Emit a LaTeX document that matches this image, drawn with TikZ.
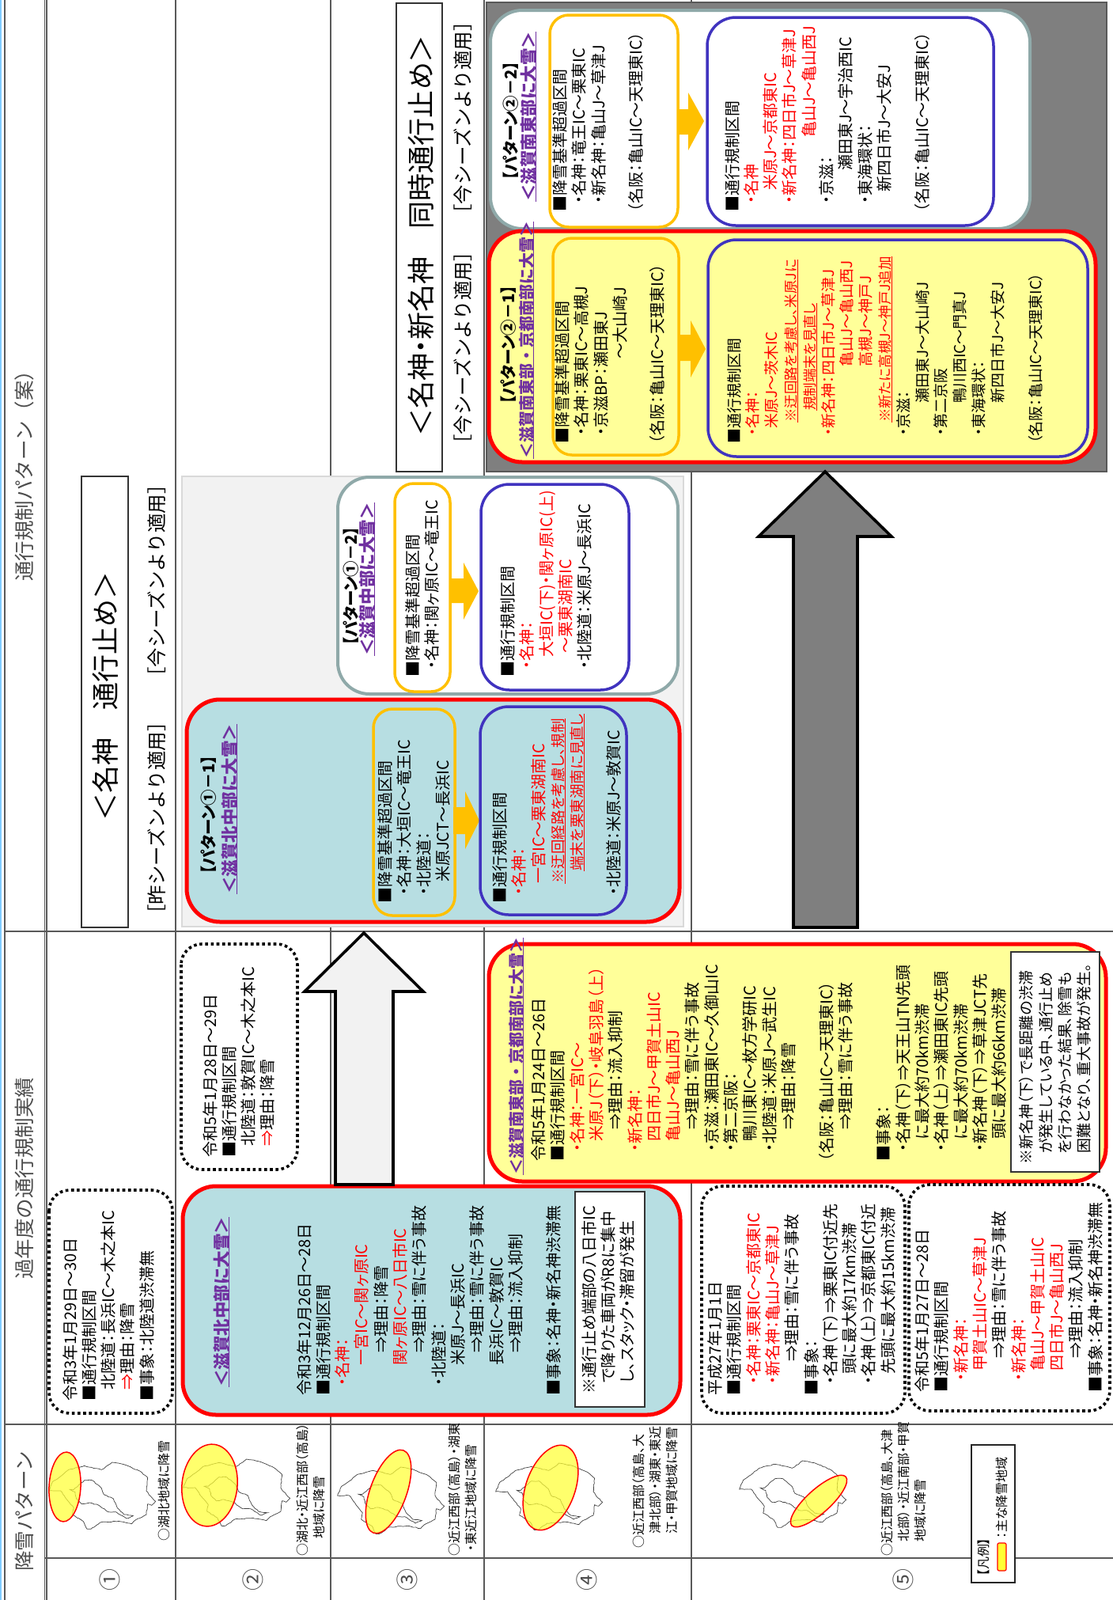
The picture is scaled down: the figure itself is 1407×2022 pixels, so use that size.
\documentclass[tikz,border=0pt]{standalone}
\usepackage{fontspec}
\setmainfont[RawFeature={+palt}]{Noto Sans CJK JP}
\newfontfamily\fullwidth{Noto Sans CJK JP}
\usetikzlibrary{decorations.pathmorphing}
\definecolor{waterblue}{HTML}{B7DEE2}
\definecolor{lemon}{HTML}{FFFF99}
\definecolor{snowyellow}{HTML}{FFFF33}
\definecolor{ringgrey}{HTML}{8FA9A9}
\definecolor{amber}{HTML}{FFC000}
\definecolor{indigo}{HTML}{4033BF}
\definecolor{purpletxt}{HTML}{7030A0}
\definecolor{panelgrey}{HTML}{F2F2F2}
\definecolor{darkpanel}{HTML}{7F7F7F}
\newcommand{\rd}[1]{\textcolor{red}{#1}}
\newcommand{\sk}[1]{\hspace*{#1pt}}
\newcommand{\ul}[1]{\underline{\smash{#1}}}
\tikzset{
    rule/.style = {
        draw=black!65,
        line width=1.2pt,
        },
    txt/.style = {
        rotate=90,
        anchor=north west,
        align=left,
        inner sep=0pt,
        font=\fontsize{20}{24.3}\selectfont,
        execute at begin node=\rule{0pt}{1em},
        },
    line/.style = {
        rotate=90,
        anchor=west,
        inner sep=0pt,
        },
    head/.style = {
        line,
        text=black!70,
        font=\fullwidth\fontsize{25.5}{25.5}\selectfont,
        },
    num/.style = {
        rotate=90,
        inner sep=0pt,
        text=black!70,
        font=\fontsize{28}{28}\selectfont,
        },
    area/.style = {
        txt,
        font=\fontsize{16}{21}\selectfont,
        },
    ptitle/.style = {
        line,
        font=\fullwidth\fontsize{21.5}{24}\selectfont\bfseries,
        text=purpletxt,
        },
    pname/.style = {
        line,
        font=\fontsize{20.5}{24}\selectfont\bfseries,
        },
    bigtitle/.style = {
        line,
        font=\fontsize{35}{35}\selectfont,
        },
    season/.style = {
        line,
        font=\fullwidth\fontsize{24.5}{24.5}\selectfont,
        },
    dotbox/.style = {
        draw=black,
        line width=3.6pt,
        dash pattern=on 3.6pt off 3.6pt,
        rounded corners=26pt,
        },
    redbox/.style = {
        draw=red,
        line width=5pt,
        rounded corners=42pt,
        },
    greybox/.style = {
        draw=ringgrey,
        line width=4pt,
        fill=white,
        rounded corners=40pt,
        },
    orbox/.style = {
        draw=amber,
        line width=3.5pt,
        rounded corners=24pt,
        },
    blbox/.style = {
        draw=indigo,
        line width=3.5pt,
        rounded corners=36pt,
        },
    notebox/.style = {
        draw=black!80,
        line width=1.2pt,
        fill=white,
        },
    okarrow/.style = {
        fill=amber,
        draw=none,
        },
    bigarrow/.style = {
        draw=black,
        line width=3.6pt,
        miter limit=10,
        },
    snow/.style = {
        draw=red,
        line width=1.5pt,
        fill=snowyellow,
        fill opacity=0.72,
        },
    mapline/.style = {
        draw=black!75,
        line width=0.7pt,
        decorate,
        decoration={random steps,segment length=3pt,amplitude=0.5pt},
        },
    shiga/.pic = {
        \begin{scope}[scale=0.3333]
        \draw[mapline] (5,150) -- (20,115) -- (50,95) -- (80,70) -- (140,55) -- (205,70) -- (215,65)
            -- (245,42) -- (290,50) -- (350,75) -- (380,100) -- (375,150) -- (385,165) -- (410,190)
            -- (395,205) -- (380,200) -- (375,240) -- (335,260) -- (320,275) -- (270,265) -- (200,270)
            -- (165,295) -- (150,295) -- (135,265) -- (95,240) -- (100,215) -- (75,185) -- (50,150) -- cycle;
        \draw[mapline] (85,145) -- (100,145) -- (140,110) -- (170,110) -- (205,140) -- (215,165)
            -- (250,180) -- (265,215) -- (290,240) -- (325,245) -- (300,255) -- (260,230) -- (230,230)
            -- (195,205) -- (160,195) -- (130,200) -- (110,180) -- (105,155) -- cycle;
        \end{scope}
        },
}
\begin{document}
\begin{tikzpicture}[x=1pt,y=-1pt]
    \useasboundingbox (0,0) rectangle (1407,2022);

    % table
    \draw[draw=blue!40!cyan!50, line width=2pt] (1,0) -- (1,2022);
    \foreach \xx in {6,56.5,59,222,418,612,874} {
        \draw[rule] (\xx,0) -- (\xx,2022);
    }
    \draw[rule] (6,1177) -- (1407,1177);
    \draw[rule] (6,1800) -- (1407,1800);
    \draw[rule] (56,1969) -- (1407,1969);

    \node[head] (headsnow) at (31,1986) {降雪パターン};
    \node[head] (headpast) at (31,1617) {過年度の通行規制実績};
    \node[head] (headplan) at (31,735) {通行規制パターン（案）};

    \node[num] (num1) at (139,1996) {①};
    \node[num] (num2) at (320,1996) {②};
    \node[num] (num3) at (515,1996) {③};
    \node[num] (num4) at (742,1996) {④};
    \node[num] (num5) at (1142,1996) {⑤};

    % maps
    \pic at (60,1834) {shiga};
    \pic at (230,1830) {shiga};
    \pic at (425,1840) {shiga};
    \pic at (625,1835) {shiga};
    \pic at (933,1832) {shiga};
    \draw[snow, rotate around={-3:(82,1879)}] (82,1879) ellipse[x radius=20, y radius=44];
    \draw[snow, rotate around={-6:(265,1877)}] (265,1877) ellipse[x radius=35, y radius=52];
    \draw[snow, rotate around={-20:(491,1885)}] (491,1885) ellipse[x radius=23, y radius=55.5];
    \draw[snow, rotate around={-20:(696,1880)}] (696,1880) ellipse[x radius=31, y radius=56];
    \draw[snow, rotate around={-48:(1035,1897)}] (1035,1897) ellipse[x radius=15, y radius=46];

    \node[area] (area1) at (197,1948) {○湖北地域に降雪};
    \node[area] (area2) at (375,1967) {○湖北・近江西部（高島）\\\sk{22}地域に降雪};
    \node[area] (area3) at (567,1967) {○近江西部（高島）・湖東\\\sk{6}・東近江地域に降雪};
    \node[area] (area4) at (800,1957) {○近江西部（高島、大\\\sk{18}津北部）・湖東・東近\\\sk{18}江・甲賀地域に降雪};
    \node[area] (area5) at (1114,1967) {○近江西部（高島、大津\\\sk{18}北部）・近江南部・甲賀\\\sk{18}地域に降雪};

    % legend
    \draw[draw=black!85, line width=2.5pt, fill=white] (1228,1826) rectangle (1283,2000);
    \node[area] (legendhead) at (1233,1992) {【凡例】};
    \draw[draw=red, line width=1.2pt, fill=snowyellow, rounded corners=2pt] (1261,1950) rectangle (1272,1985);
    \node[area] (legendtxt) at (1256,1945) {：主な降雪地域};

    % past years
    \draw[dotbox] (62,1504) rectangle (218,1786);
    \node[txt] (cell1) at (79,1771) {令和3年1月29日～30日\\■通行規制区間\\\sk{14}北陸道：長浜IC～木之本IC\\\sk{14}\rd{⇒}理由：降雪\\■事象：北陸道渋滞無};

    \draw[dotbox] (229,1193) rectangle (376,1478);
    \node[txt] (cell2a) at (256,1463) {令和5年1月28日～29日\\■通行規制区間\\\sk{14}北陸道：敦賀IC～木之本IC\\\sk{14}\rd{⇒}理由：降雪};

    \draw[redbox, fill=waterblue] (231,1499) rectangle (860,1788);
    \node[ptitle] (title2b) at (289,1753) {\ul{＜滋賀北中部に大雪＞}};
    \node[txt] (cell2b) at (375,1764) {令和3年12月26日～28日\\■通行規制区間\\\rd{\sk{12}・名神：}\\\rd{\sk{38}一宮IC～関ヶ原IC}\\\sk{54}⇒理由：降雪\\\rd{\sk{38}関ヶ原IC～八日市IC}\\\sk{54}⇒理由：雪に伴う事故\\\sk{12}・北陸道：\\\sk{38}米原J～長浜IC\\\sk{54}⇒理由：雪に伴う事故\\\sk{38}長浜IC～敦賀IC\\\sk{54}⇒理由：流入抑制\\[24.3pt]■事象：名神・新名神渋滞無};
    \draw[notebox] (727,1506) rectangle (815,1778);
    \node[txt] (note2b) at (735,1762) {※通行止め端部の八日市IC\\\sk{14}で降りた車両がR8に集中\\\sk{14}し、スタック・滞留が発生};

    \draw[redbox, fill=lemon] (618,1193) rectangle (1398,1493);
    \node[ptitle,font=\fullwidth\fontsize{20}{24}\selectfont\bfseries] (title4) at (661,1485) {\ul{＜滋賀南東部・京都南部に大雪＞}};
    \node[txt] (cell4) at (671.5,1468) {令和5年1月24日～26日\\■通行規制区間\\\rd{\sk{12}・名神：一宮IC～}\\\rd{\sk{25}米原J（下）・岐阜羽島（上）}\\\sk{40}⇒理由：流入抑制\\\rd{\sk{12}・新名神：}\\\rd{\sk{25}四日市J～甲賀土山IC}\\\rd{\sk{25}亀山J～亀山西J}\\\sk{40}⇒理由：雪に伴う事故\\\sk{12}・京滋：瀬田東IC～久御山IC\\\sk{12}・第二京阪：\\\sk{25}鴨川東IC～枚方学研IC\\\sk{12}・北陸道：米原J～武生IC\\\sk{40}⇒理由：降雪\\[23.5pt]（名阪：亀山IC～天理東IC）\\\sk{40}⇒理由：雪に伴う事故\\[24pt]■事象：\\\sk{12}・名神（下）⇒天王山TN先頭\\\sk{28}に最大約70km渋滞\\\sk{12}・名神（上）⇒瀬田東IC先頭\\\sk{28}に最大約70km渋滞\\\sk{12}・新名神（下）⇒草津JCT先\\\sk{28}頭に最大約66km渋滞};
    \draw[notebox] (1278,1203) rectangle (1390,1481);
    \node[txt,font=\fontsize{19}{24.3}\selectfont] (note4) at (1288.5,1472) {※新名神（下）で長距離の渋滞\\\sk{14}が発生している中、通行止め\\\sk{14}を行わなかった結果、除雪も\\\sk{14}困難となり、重大事故が発生。};

    \draw[dotbox] (887,1499) rectangle (1144,1786);
    \node[txt] (cell5a) at (894.5,1764) {平成27年1月1日\\■通行規制区間\\\rd{\sk{14}・名神：栗東IC～京都東IC}\\\rd{\sk{14}・新名神：亀山J～草津J}\\\sk{43}⇒理由：雪に伴う事故\\■事象：\\\sk{14}・名神（下）⇒栗東IC付近先\\\sk{27}頭に最大約17km渋滞\\\sk{14}・名神（上）⇒京都東IC付近\\\sk{27}先頭に最大約15km渋滞};

    \draw[dotbox] (1149,1497) rectangle (1403,1783);
    \node[txt] (cell5b) at (1156.5,1760) {令和5年1月27日～28日\\■通行規制区間\\\rd{\sk{14}・新名神：}\\\rd{\sk{27}甲賀土山IC～草津J}\\\sk{43}⇒理由：雪に伴う事故\\\rd{\sk{14}・新名神：}\\\rd{\sk{27}亀山J～甲賀土山IC}\\\rd{\sk{27}四日市J～亀山西J}\\\sk{43}⇒理由：流入抑制\\■事象：名神・新名神渋滞無};

    % pattern 1
    \draw[draw=black!15, line width=2pt, fill=panelgrey] (230,602) rectangle (864,1171);
    \draw[notebox] (103,602) rectangle (162,1172);
    \node[bigtitle] (title1) at (133,1038) {＜名神　通行止め＞};
    \node[season] (season1a) at (198,1168) {［昨シーズンより適用］};
    \node[season] (season1b) at (198,868) {［今シーズンより適用］};

    \draw[redbox, fill=waterblue] (236,884) rectangle (859,1165);
    \node[pname] (name11) at (264,1105) {【パターン①－1】};
    \node[ptitle] (title11) at (299,1130) {\ul{＜滋賀北中部に大雪＞}};
    \draw[orbox] (472,896) rectangle (575,1157);
    \node[txt] (limit11) at (477.5,1142) {■降雪基準超過区間\\\sk{10}・名神：大垣IC～竜王IC\\\sk{10}・北陸道：\\\sk{27}米原JCT～長浜IC};
    \draw[okarrow] (573,1020) -- (588,1020) -- (588,1000) -- (606,1037) -- (588,1073) -- (588,1054) -- (573,1054) -- cycle;
    \draw[blbox] (607,893) rectangle (792,1156);
    \node[txt] (rule11) at (622.5,1142) {■通行規制区間\\\rd{\sk{10}・名神：}\\\rd{\sk{25}一宮IC～栗東湖南IC}\\\rd{\sk{25}\fontsize{18.5}{24.3}\selectfont\ul{※迂回経路を考慮し、規制}}\\\rd{\sk{41}\fontsize{18.5}{24.3}\selectfont\ul{端末を栗東湖南に見直し}}\\[22pt]\sk{10}・北陸道：米原J～敦賀IC};

    \draw[greybox] (427,603) rectangle (857,877);
    \node[pname] (name12) at (444,816) {【パターン①－2】};
    \node[ptitle] (title12) at (473,829) {\ul{＜滋賀中部に大雪＞}};
    \draw[orbox] (499,611) rectangle (569,874);
    \node[txt] (limit12) at (512.5,856) {■降雪基準超過区間\\\sk{10}・名神：関ヶ原IC～竜王IC};
    \draw[okarrow] (569,731) -- (586,731) -- (586,711) -- (605,747) -- (586,783) -- (586,762) -- (569,762) -- cycle;
    \draw[blbox] (608,612) rectangle (795,872);
    \node[txt] (rule12) at (632.5,856) {■通行規制区間\\\rd{\sk{10}・名神：}\\\rd{\sk{25}大垣IC(下)・関ヶ原IC(上)}\\\rd{\sk{30}～栗東湖南IC}\\\sk{10}・北陸道：米原J～長浜IC};

    % pattern 2
    \draw[draw=black!65, line width=1.5pt, fill=darkpanel] (615,3) rectangle (1399,596);
    \draw[notebox] (501,4) rectangle (559,596);
    \node[bigtitle] (title2) at (532,552) {＜名神・新名神　同時通行止め＞};
    \node[season] (season2a) at (585,574) {［今シーズンより適用］};
    \node[season] (season2b) at (585,283) {［今シーズンより適用］};

    \draw[greybox] (620,13) rectangle (1302,289);
    \node[pname] (name22) at (646,228) {【パターン②－2】};
    \node[ptitle] (title22) at (677,255) {\ul{＜滋賀南東部に大雪＞}};
    \draw[orbox] (695,19) rectangle (857,287);
    \node[txt] (limit22) at (698.5,268) {■降雪基準超過区間\\\sk{10}・名神：竜王IC～栗東IC\\\sk{10}・新名神：亀山J～草津J\\[23pt]（名阪：亀山IC～天理東IC）};
    \draw[okarrow] (857,138) -- (870,138) -- (870,117) -- (890,153) -- (870,190) -- (870,170) -- (857,170) -- cycle;
    \draw[blbox] (894,22) rectangle (1256,285);
    \node[txt] (rule22) at (916,268) {■通行規制区間\\\rd{\sk{10}・名神}\\\rd{\sk{27}米原J～京都東IC}\\\rd{\sk{10}・新名神：四日市J～草津J}\\\rd{\sk{94}亀山J～亀山西J}\\[-2pt]\sk{10}・京滋：\\\sk{52}瀬田東J～宇治西IC\\\sk{10}・東海環状：\\\sk{25}新四日市J～大安J\\[24pt]（名阪：亀山IC～天理東IC）};

    \draw[redbox, fill=lemon] (618,292) rectangle (1385,584);
    \node[pname] (name21) at (643,511) {【パターン②－1】};
    \node[ptitle,font=\fullwidth\fontsize{20}{24}\selectfont\bfseries] (title21) at (674,580) {\ul{＜滋賀南東部・京都南部に大雪＞}};
    \draw[orbox] (699,301) rectangle (858,575);
    \node[txt] (limit21) at (701.5,561) {■降雪基準超過区間\\\sk{10}・名神：栗東IC～高槻J\\\sk{10}・京滋BP：瀬田東J\\\sk{107}～大山崎J\\[23pt]（名阪：亀山IC～天理東IC）};
    \draw[okarrow] (858,423) -- (873,423) -- (873,405) -- (892,441) -- (873,477) -- (873,456) -- (858,456) -- cycle;
    \draw[blbox] (895,303) rectangle (1375,577);
    \node[txt,font=\fontsize{19}{23.8}\selectfont] (rule21) at (919,561) {■通行規制区間\\\rd{\sk{10}・名神：}\\\rd{\sk{19}米原J～茨木IC}\\\rd{\sk{27}\fontsize{17.5}{23.8}\selectfont\ul{※迂回路を考慮し、米原Jに}}\\\rd{\sk{42}\fontsize{17.5}{23.8}\selectfont\ul{規制端末を見直し}}\\\rd{\sk{10}・新名神：四日市J～草津J}\\\rd{\sk{97}亀山J～亀山西J}\\\rd{\sk{97}高槻J～神戸J}\\\rd{\sk{27}\fontsize{17.5}{23.8}\selectfont\ul{※新たに高槻J～神戸J追加}}\\\sk{10}・京滋：\\\sk{51}瀬田東J～大山崎J\\\sk{10}・第二京阪\\\sk{51}鴨川西IC～門真J\\\sk{10}・東海環状：\\\sk{51}新四日市J～大安J\\[24pt]（名阪：亀山IC～天理東IC）};

    % arrows between panels
    \draw[bigarrow, fill=panelgrey] (424,1497) -- (424,1253) -- (385,1253) -- (460,1179) -- (535,1253) -- (497,1253) -- (497,1497) -- cycle;
    \draw[bigarrow, fill=darkpanel] (1003,1172) -- (1003,678) -- (959,678) -- (1043,596) -- (1127,678) -- (1084,678) -- (1084,1172) -- cycle;
\end{tikzpicture}
\end{document}
